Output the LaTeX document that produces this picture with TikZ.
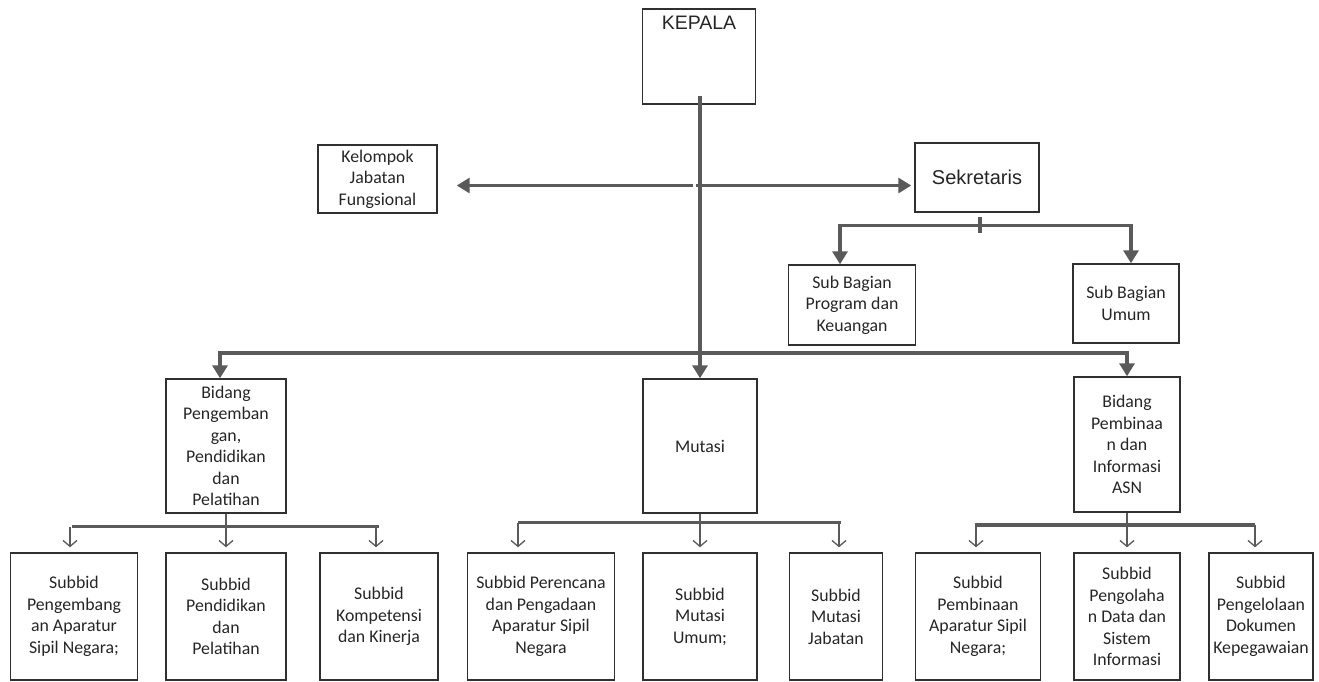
\documentclass[tikz,border=0pt]{standalone}
\usepackage{fontspec}
\setmainfont{Carlito}
\newfontfamily\arialfont{Liberation Sans}
\usetikzlibrary{arrows.meta}

\definecolor{conn}{HTML}{5A5A5A}
\definecolor{boxline}{HTML}{303030}
\definecolor{txt}{HTML}{262626}

\tikzset{
	box/.style={draw=boxline, line width=1.4pt, text=txt, align=center, inner sep=2pt,
		font=\fontsize{17.8}{21.5}\selectfont},
	head/.style={font=\arialfont\fontsize{20}{24}\selectfont},
	main/.style={draw=conn, line width=3.2pt},
	tip/.style={-{Triangle[length=13pt,width=15pt]}},
	twotips/.style={{Triangle[length=13pt,width=15pt]}-{Triangle[length=13pt,width=15pt]}},
	bus/.style={draw=conn, line width=3.4pt},
	drop/.style={draw=conn, line width=1.3pt, -{Straight Barb[length=6pt,width=14pt]}, shorten >=5pt},
}

\begin{document}
\begin{tikzpicture}[x=1pt,y=-1pt]
	\useasboundingbox (0,0) rectangle (1319,681);

	% Pimpinan dan staf
	\node[box, minimum width=113pt, minimum height=95pt,
		label={[head, font=\arialfont\fontsize{19.5}{23}\selectfont, text=txt, anchor=north, inner sep=0pt, yshift=-7.5pt]north:KEPALA}]
		(kepala) at (699,56.5) {};
	\node[box, minimum width=119pt, minimum height=68pt] (kelompok) at (377.5,179) {Kelompok\\Jabatan\\Fungsional};
	\node[box, head, minimum width=124pt, minimum height=69pt] (sekretaris) at (977,177.5) {Sekretaris};
	\node[box, minimum width=127pt, minimum height=80pt] (sbprogram) at (852,305) {Sub Bagian\\Program dan\\Keuangan};
	\node[box, minimum width=106pt, minimum height=79pt] (sbumum) at (1126,303.5) {Sub Bagian\\Umum};

	% Bidang
	\node[box, minimum width=120pt, minimum height=134pt] (bidpengembangan) at (226,446)
		{Bidang\\Pengemban\\gan,\\Pendidikan\\dan\\Pelatihan};
	\node[box, minimum width=114pt, minimum height=134pt] (mutasi) at (700,446) {Mutasi};
	\node[box, minimum width=106pt, minimum height=135pt] (bidpembinaan) at (1127,444.5)
		{Bidang\\Pembinaa\\n dan\\Informasi\\ASN};

	% Subbidang
	\node[box, minimum width=127pt, minimum height=127pt] (sub1) at (74,616.5) {Subbid\\Pengembang\\an Aparatur\\Sipil Negara;};
	\node[box, minimum width=120pt, minimum height=127pt] (sub2) at (226,616.5) {Subbid\\Pendidikan\\dan\\Pelatihan};
	\node[box, minimum width=118pt, minimum height=127pt] (sub3) at (379,616.5) {Subbid\\Kompetensi\\dan Kinerja};
	\node[box, minimum width=147pt, minimum height=127pt] (sub4) at (541,616.5) {Subbid Perencana\\dan Pengadaan\\Aparatur Sipil\\Negara};
	\node[box, minimum width=114pt, minimum height=127pt] (sub5) at (700,616.5) {Subbid\\Mutasi\\Umum;};
	\node[box, minimum width=93pt, minimum height=127pt] (sub6) at (836,616.5) {Subbid\\Mutasi\\Jabatan};
	\node[box, minimum width=125pt, minimum height=127pt] (sub7) at (978,616.5) {Subbid\\Pembinaan\\Aparatur Sipil\\Negara;};
	\node[box, minimum width=106pt, minimum height=127pt] (sub8) at (1127,616.5) {Subbid\\Pengolaha\\n Data dan\\Sistem\\Informasi};
	\node[box, minimum width=104pt, minimum height=127pt] (sub9) at (1261,616.5) {Subbid\\Pengelolaan\\Dokumen\\Kepegawaian};

	% Garis komando utama
	\coordinate (hub) at (694.4,185.5);
	\coordinate (sekbus) at (980,225.5);
	\coordinate (mainbus) at (700,353);
	\draw[main, tip, shorten <=-9pt] (mutasi.north |- kepala.south) -- (mutasi.north);
	\draw[main, tip, shorten >=19pt] ([xshift=-1.7pt]hub) -- (kelompok.east |- hub);
	\draw[main, tip, shorten >=3pt] ([xshift=1.7pt]hub) -- (sekretaris.west |- hub);

	% Sekretariat
	\draw[main] ([yshift=-4pt]sekretaris.south -| sekbus) -- ([yshift=-7pt]sekbus);
	\draw[main, twotips] ([xshift=-12pt]sbprogram.north) |- (sekbus) -| ([xshift=5pt]sbumum.north);

	% Ke bidang
	\draw[main, twotips] ([xshift=-6pt]bidpengembangan.north) |- (mainbus) -| (bidpembinaan.north);

	% Bidang ke subbidang
	\coordinate (busL) at (222,526.5);
	\coordinate (busM) at (698,522.5);
	\coordinate (busR) at (1129,525);

	\draw[draw=conn, line width=2pt] (bidpengembangan.south) -- (bidpengembangan.south |- busL);
	\draw[bus] ([xshift=-2pt]sub1.north |- busL) -- (sub3.north |- busL);
	\draw[drop] ([xshift=-4pt]sub1.north |- busL) -- ([xshift=-4pt]sub1.north);
	\draw[drop] (sub2.north |- busL) -- (sub2.north);
	\draw[drop] ([xshift=-3pt]sub3.north |- busL) -- ([xshift=-3pt]sub3.north);

	\draw[draw=conn, line width=2pt] (mutasi.south) -- (mutasi.south |- busM);
	\draw[bus] ([xshift=-23pt]sub4.north |- busM) -- ([xshift=5pt]sub6.north |- busM);
	\draw[drop] ([xshift=-23pt]sub4.north |- busM) -- ([xshift=-23pt]sub4.north);
	\draw[drop] (sub5.north |- busM) -- (sub5.north);
	\draw[drop] ([xshift=3pt]sub6.north |- busM) -- ([xshift=3pt]sub6.north);

	\draw[draw=conn, line width=2pt] (bidpembinaan.south) -- (bidpembinaan.south |- busR);
	\draw[bus] ([xshift=-3pt]sub7.north |- busR) -- ([xshift=-6pt]sub9.north |- busR);
	\draw[drop] ([xshift=-2pt]sub7.north |- busR) -- ([xshift=-2pt]sub7.north);
	\draw[drop] (sub8.north |- busR) -- (sub8.north);
	\draw[drop] ([xshift=-6pt]sub9.north |- busR) -- ([xshift=-6pt]sub9.north);
\end{tikzpicture}
\end{document}
